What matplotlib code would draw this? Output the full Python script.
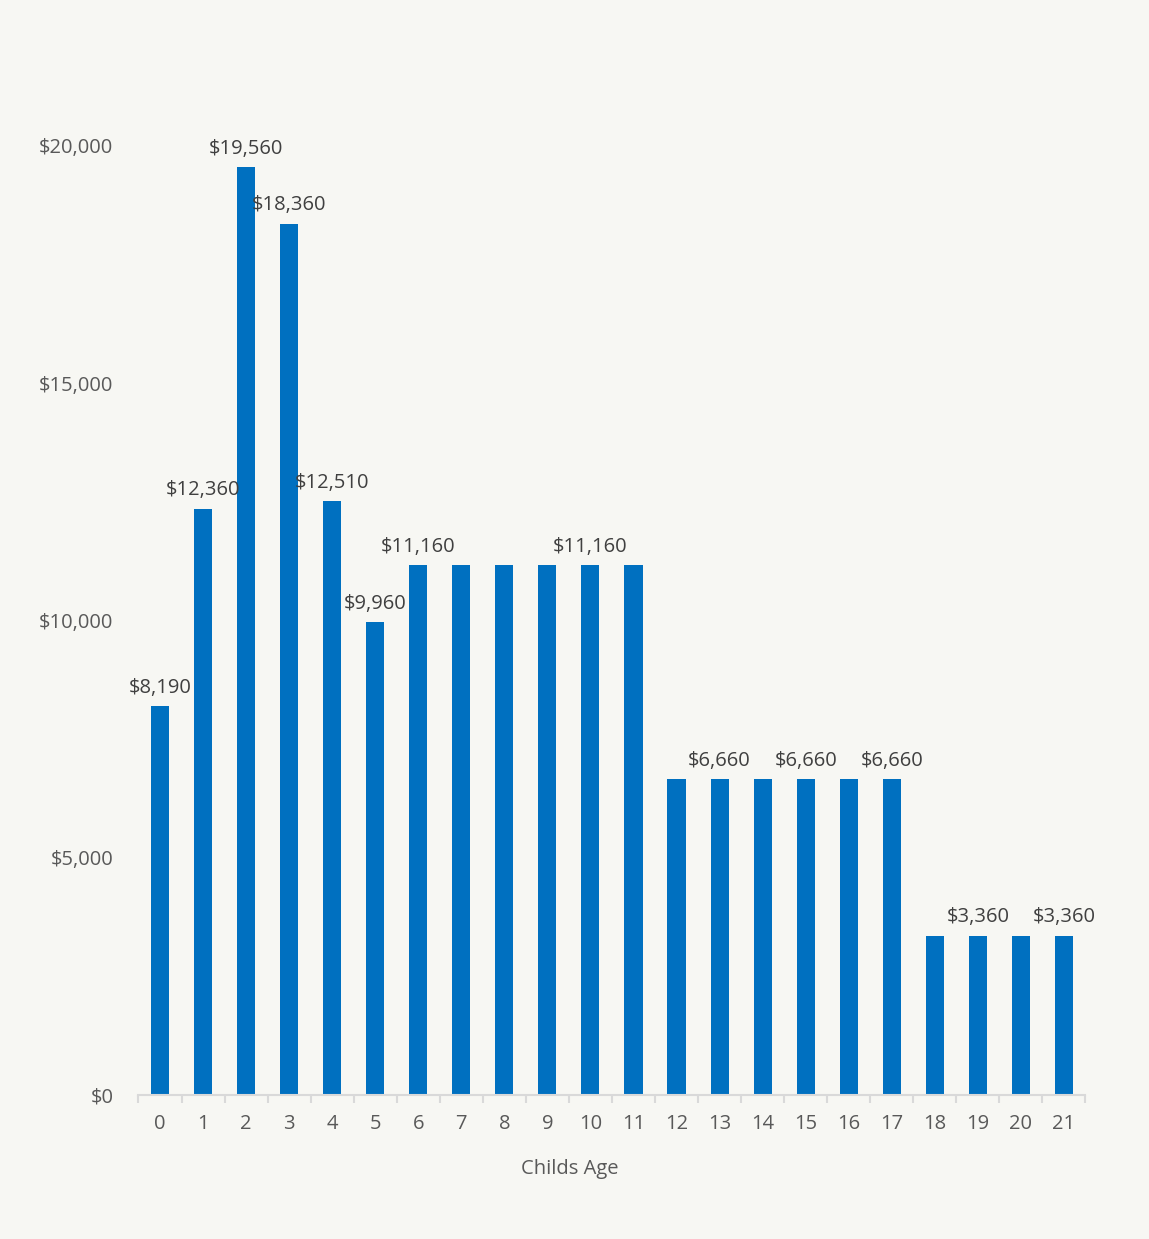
import matplotlib
matplotlib.use("Agg")
import matplotlib.pyplot as plt
from matplotlib.ticker import FuncFormatter, FixedLocator

ages = [str(i) for i in range(22)]
costs = [8190, 12360, 19560, 18360, 12510, 9960,
         11160, 11160, 11160, 11160, 11160, 11160,
         6660, 6660, 6660, 6660, 6660, 6660,
         3360, 3360, 3360, 3360]
labeled = [0, 1, 2, 3, 4, 5, 6, 10, 13, 15, 17, 19, 21]
yticks = [0, 5000, 10000, 15000, 20000]

bg = "#f7f7f3"
bar_color = "#0070c0"
text_color = "#595959"
plt.rcParams['font.family'] = ['Open Sans', 'DejaVu Sans']

fig = plt.figure(figsize=(11.49, 12.39), dpi=100, facecolor=bg)
ax = fig.add_axes([0.1205, 0.1162, 0.8242, 0.766], facecolor=bg)

x = list(range(len(ages)))
bars = ax.bar(x, costs, width=0.42, color=bar_color, zorder=2)

for i in labeled:
    ax.annotate(f"${costs[i]:,}", (x[i], costs[i]), xytext=(0, 6),
                textcoords="offset points", ha="center", va="bottom",
                fontsize=14.5, color="#404040")

ax.set_xlim(-0.5, len(ages) - 0.5)
ax.set_ylim(0, 20000)
ax.set_yticks(yticks)
ax.yaxis.set_major_formatter(FuncFormatter(lambda v, p: f"${int(v):,}"))
ax.set_xticks(x)
ax.set_xticklabels(ages)
ax.xaxis.set_minor_locator(FixedLocator([i - 0.5 for i in range(len(ages) + 1)]))

for s in ["top", "right", "left"]:
    ax.spines[s].set_visible(False)
ax.spines["bottom"].set_color("#d9d9d9")
ax.spines["bottom"].set_linewidth(1.5)

ax.tick_params(axis="y", length=0, labelsize=14.5, labelcolor=text_color, pad=18)
ax.tick_params(axis="x", which="major", length=0, labelsize=14.5, labelcolor=text_color, pad=14)
ax.tick_params(axis="x", which="minor", length=6, width=1.5, color="#d9d9d9")
ax.set_xlabel("Childs Age", fontsize=14.5, color=text_color)
ax.xaxis.set_label_coords((570 - 138.5) / 947, -0.067)

fig.savefig("out.png", dpi=100, facecolor=bg)
